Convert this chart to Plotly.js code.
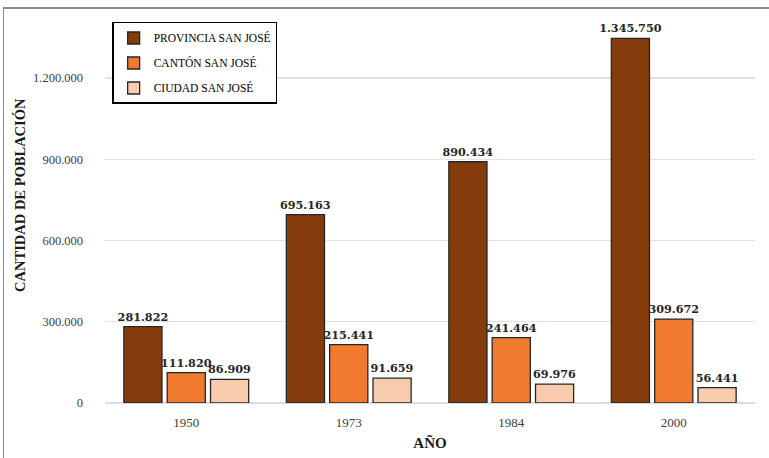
<!DOCTYPE html>
<html>
<head>
<meta charset="utf-8">
<script src="https://cdn.plot.ly/plotly-3.0.1.min.js"></script>
<style>
  html, body { margin: 0; padding: 0; background: #fff; }
  #frame { position: absolute; left: 3px; top: 7px; width: 766px; height: 451px;
           border-left: 1.5px solid #8c8c8c; border-top: 2px solid #8c8c8c; box-sizing: border-box; }
  #chart { position: absolute; left: 0; top: 0; width: 769px; height: 458px; }
</style>
</head>
<body>
<div id="frame"></div>
<div id="chart"></div>
<script>
const years = ['1950', '1973', '1984', '2000'];
const provincia = [281822, 695163, 890434, 1345750];
const canton = [111820, 215441, 241464, 309672];
const ciudad = [86909, 91659, 69976, 56441];
const seriesNames = ['PROVINCIA SAN JOSÉ', 'CANTÓN SAN JOSÉ', 'CIUDAD SAN JOSÉ'];
const yTickVals = [0, 300000, 600000, 900000, 1200000];
const yTickText = ['0', '300.000', '600.000', '900.000', '1.200.000'];

function fmt(v) { return String(v).replace(/\B(?=(\d{3})+(?!\d))/g, '.'); }

const colors = ['#843C0C', '#F07B2E', '#F8CBAD'];
const all = [provincia, canton, ciudad];

const traces = all.map((vals, i) => ({
  type: 'bar',
  name: seriesNames[i],
  legendgroup: 'g' + i,
  x: years,
  y: vals,
  text: vals.map(fmt),
  textposition: 'outside',
  constraintext: 'none',
  cliponaxis: false,
  textfont: { family: 'DejaVu Serif', size: 11.2, color: '#262626', weight: 'bold' },
  marker: { color: colors[i], line: { color: '#262626', width: 1.3 } },
  hoverinfo: 'none'
}));

const layout = {
  width: 769, height: 458,
  margin: { l: 105, r: 14, t: 15, b: 55 },
  paper_bgcolor: 'rgba(0,0,0,0)',
  plot_bgcolor: 'rgba(0,0,0,0)',
  barmode: 'group',
  bargap: 0.2,
  bargroupgap: 0.12,
  showlegend: true,
  legend: {
    x: 0.011, y: 0.982, xanchor: 'left', yanchor: 'top',
    bgcolor: '#ffffff', bordercolor: '#000000', borderwidth: 1.5,
    font: { family: 'Liberation Serif', size: 11.5, color: '#000000' },
    traceorder: 'grouped', tracegroupgap: 6, itemwidth: 30
  },
  xaxis: {
    type: 'category',
    showgrid: false, zeroline: false, showline: false, ticks: '',
    ticklabelstandoff: 10,
    tickfont: { family: 'Liberation Serif', size: 13, color: '#404040' },
    title: { text: 'AÑO', font: { family: 'Liberation Serif', size: 15, color: '#1a1a1a', weight: 'bold' }, standoff: 8 }
  },
  yaxis: {
    range: [0, 1432000],
    tickvals: yTickVals, ticktext: yTickText,
    showgrid: true, gridcolor: '#dfe2e8', gridwidth: 1.3,
    zeroline: true, zerolinecolor: '#d9dce3', zerolinewidth: 1.3,
    showline: false, ticks: '', ticklabelstandoff: 21,
    tickfont: { family: 'Liberation Serif', size: 12.5, color: '#404040' }
  },
  annotations: [{
    text: 'CANTIDAD DE POBLACIÓN', textangle: -90,
    xref: 'paper', yref: 'paper', x: -0.131, y: 0.536,
    xanchor: 'center', yanchor: 'middle', showarrow: false,
    font: { family: 'Liberation Serif', size: 14.5, color: '#1a1a1a', weight: 'bold' }
  }]
};

Plotly.newPlot('chart', traces, layout, { displayModeBar: false, staticPlot: true });
</script>
</body>
</html>
